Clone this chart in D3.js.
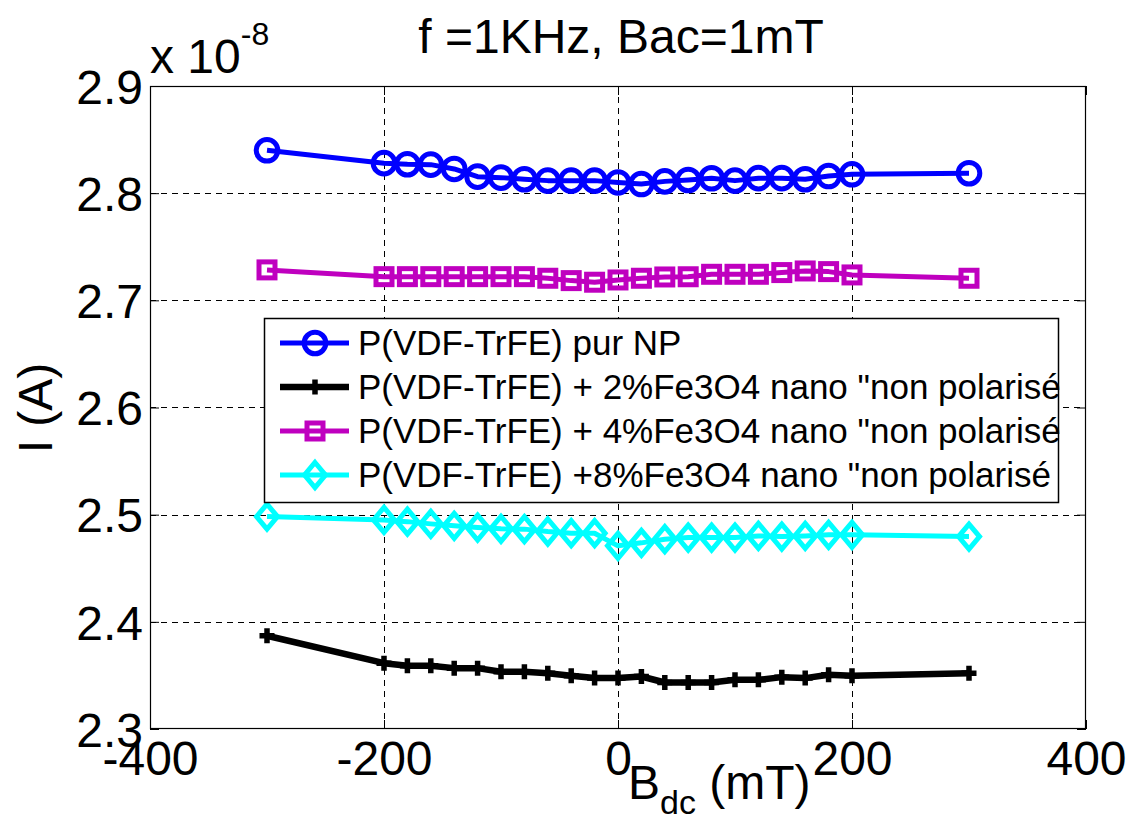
<!DOCTYPE html>
<html>
<head>
<meta charset="utf-8">
<script src="https://cdn.jsdelivr.net/npm/d3@7"></script>
<style>
  html, body { margin: 0; padding: 0; background: #fff; }
  svg { display: block; }
  text { font-family: "Liberation Sans", Arial, Helvetica, sans-serif; fill: #000; }
</style>
</head>
<body>
<svg id="chart" width="1131" height="825"></svg>
<script>
// Magnetic field (mT)
const bdc = [-300, -200, -180, -160, -140, -120, -100, -80, -60, -40, -20, 0,
             20, 40, 60, 80, 100, 120, 140, 160, 180, 200, 300];

// Current, in units of 1e-8 A
const purNP = [2.840, 2.828, 2.827, 2.8266, 2.8226, 2.8154, 2.8145, 2.813, 2.8117, 2.8117, 2.8117, 2.810,
               2.8085, 2.811, 2.8123, 2.8139, 2.8117, 2.814, 2.814, 2.813, 2.816, 2.8176, 2.8186];
const fe2 = [2.387, 2.3614, 2.359, 2.359, 2.3568, 2.3568, 2.3534, 2.3534, 2.3521, 2.3497, 2.3475, 2.3475,
             2.349, 2.3434, 2.3434, 2.3434, 2.3459, 2.3459, 2.3484, 2.3475, 2.3506, 2.3496, 2.3521];
const fe4 = [2.7284, 2.7221, 2.7221, 2.7221, 2.7221, 2.7221, 2.7221, 2.7221, 2.7206, 2.7184, 2.7169, 2.719,
             2.7206, 2.7218, 2.722, 2.7243, 2.7243, 2.7243, 2.7259, 2.7274, 2.7268, 2.7237, 2.7206];
const fe8 = [2.4982, 2.4951, 2.4935, 2.4914, 2.4896, 2.488, 2.4868, 2.4865, 2.4843, 2.4827, 2.4827, 2.4709,
             2.4737, 2.4771, 2.4786, 2.4786, 2.4786, 2.4802, 2.4796, 2.4802, 2.4812, 2.4812, 2.4796];

const seriesNames = [
  'P(VDF-TrFE) pur NP',
  'P(VDF-TrFE) + 2%Fe3O4 nano "non polarisé',
  'P(VDF-TrFE) + 4%Fe3O4 nano "non polarisé',
  'P(VDF-TrFE) +8%Fe3O4 nano "non polarisé'
];
const seriesColors = ['#0000ff', '#000000', '#bf00bf', '#00ffff'];
const seriesMarkers = ['circle', 'plus', 'square', 'diamond'];
const seriesValues = [purNP, fe2, fe4, fe8];

const xTicks = [-400, -200, 0, 200, 400];
const yTicks = [2.3, 2.4, 2.5, 2.6, 2.7, 2.8, 2.9];

const titleText = 'f =1KHz, Bac=1mT';

// Layout
const L = 150, R = 1086, T = 86, B = 729;
const svg = d3.select('#chart');

const x = d3.scaleLinear().domain([-400, 400]).range([L, R]);
const y = d3.scaleLinear().domain([2.3, 2.9]).range([B, T]);

// Grid
const grid = svg.append('g').attr('stroke', '#000').attr('stroke-width', 1)
  .attr('stroke-dasharray', '6,5').attr('shape-rendering', 'crispEdges');
grid.selectAll('line.gx').data(xTicks.slice(1, -1)).join('line')
  .attr('x1', d => Math.round(x(d)) + 0.5).attr('x2', d => Math.round(x(d)) + 0.5)
  .attr('y1', T).attr('y2', B);
grid.selectAll('line.gy').data(yTicks.slice(1, -1)).join('line')
  .attr('y1', d => Math.round(y(d)) + 0.5).attr('y2', d => Math.round(y(d)) + 0.5)
  .attr('x1', L).attr('x2', R);

// Axes with inward ticks (plain hyphen for negative numbers)
const fontSize = 48;
const axB = svg.append('g').attr('transform', `translate(0,${B})`)
  .call(d3.axisBottom(x).tickValues(xTicks).tickSize(-9).tickPadding(20).tickFormat(d => String(d)));
const axT = svg.append('g').attr('transform', `translate(0,${T})`)
  .call(d3.axisTop(x).tickValues(xTicks).tickSize(-9).tickFormat(''));
const axL = svg.append('g').attr('transform', `translate(${L},0)`)
  .call(d3.axisLeft(y).tickValues(yTicks).tickSize(-9).tickPadding(7).tickFormat(d => d.toFixed(1)));
const axR = svg.append('g').attr('transform', `translate(${R},0)`)
  .call(d3.axisRight(y).tickValues(yTicks).tickSize(-9).tickFormat(''));
[axB, axT, axL, axR].forEach(g => {
  g.select('.domain').remove();
  g.selectAll('line').attr('stroke', '#000').attr('stroke-width', 1);
  g.selectAll('text').attr('font-size', fontSize)
    .style('font-family', '"Liberation Sans", Arial, sans-serif').attr('fill', '#000');
});
axB.selectAll('text').attr('dy', '0.55em');
axL.selectAll('text').attr('dy', '0.36em');

// Plot frame
svg.append('rect').attr('x', L + 0.5).attr('y', T + 0.5)
  .attr('width', R - L - 1).attr('height', B - T - 1)
  .attr('fill', 'none').attr('stroke', '#000').attr('stroke-width', 1.2);

// Marker shapes
function drawMarker(g, type, color, cx, cy) {
  if (type === 'circle') {
    g.append('circle').attr('cx', cx).attr('cy', cy).attr('r', 10.8)
      .attr('fill', 'none').attr('stroke', color).attr('stroke-width', 5);
  } else if (type === 'square') {
    g.append('rect').attr('x', cx - 8).attr('y', cy - 8).attr('width', 16).attr('height', 16)
      .attr('fill', 'none').attr('stroke', color).attr('stroke-width', 5);
  } else if (type === 'diamond') {
    g.append('path')
      .attr('d', `M${cx},${cy - 12.5}L${cx + 10.5},${cy}L${cx},${cy + 12.5}L${cx - 10.5},${cy}Z`)
      .attr('fill', 'none').attr('stroke', color).attr('stroke-width', 5).attr('stroke-linejoin', 'miter');
  } else if (type === 'plus') {
    g.append('path')
      .attr('d', `M${cx - 7.5},${cy}H${cx + 7.5}M${cx},${cy - 7.5}V${cy + 7.5}`)
      .attr('fill', 'none').attr('stroke', color).attr('stroke-width', 5.5);
  }
}

const lineWidths = [5, 6.5, 5, 5];
const line = d3.line().x(d => x(d[0])).y(d => y(d[1]));

seriesValues.forEach((vals, i) => {
  const pts = bdc.map((b, k) => [b, vals[k]]);
  const g = svg.append('g');
  const mg = g.append('g');
  pts.forEach(p => drawMarker(mg, seriesMarkers[i], seriesColors[i], x(p[0]), y(p[1])));
  g.append('path').datum(pts).attr('d', line)
    .attr('fill', 'none').attr('stroke', seriesColors[i])
    .attr('stroke-width', lineWidths[i]).attr('stroke-linejoin', 'round');
});

// Legend
const lg = svg.append('g');
const lgX = 264, lgY = 318, lgW = 794, lgH = 184;
lg.append('rect').attr('x', lgX + 0.5).attr('y', lgY + 0.5).attr('width', lgW).attr('height', lgH)
  .attr('fill', '#fff').attr('stroke', '#000').attr('stroke-width', 1.5);
seriesNames.forEach((name, i) => {
  const cy = lgY + 25 + i * 44;
  drawMarker(lg, seriesMarkers[i], seriesColors[i], 315, cy);
  lg.append('line').attr('x1', 280).attr('x2', 349).attr('y1', cy).attr('y2', cy)
    .attr('stroke', seriesColors[i]).attr('stroke-width', lineWidths[i]);
  lg.append('text').attr('x', 358).attr('y', cy).attr('dy', '0.35em')
    .attr('font-size', 35).text(name);
});

// Title
svg.append('text').attr('x', 621).attr('y', 53).attr('text-anchor', 'middle')
  .attr('font-size', fontSize).text(titleText);

// Exponent label
const ex = svg.append('text').attr('x', 150).attr('y', 73).attr('font-size', fontSize);
ex.append('tspan').text('x 10');
ex.append('tspan').attr('dy', -28).attr('font-size', 32).text('-8');

// Axis labels
const xl = svg.append('text').attr('x', 628).attr('y', 799).attr('font-size', fontSize);
xl.append('tspan').text('B');
xl.append('tspan').attr('dy', 15).attr('font-size', 34).text('dc');
xl.append('tspan').attr('dy', -15).text(' (mT)');

svg.append('text').attr('transform', 'translate(52,408) rotate(-90)')
  .attr('text-anchor', 'middle').attr('font-size', fontSize).text('I (A)');
</script>
</body>
</html>
